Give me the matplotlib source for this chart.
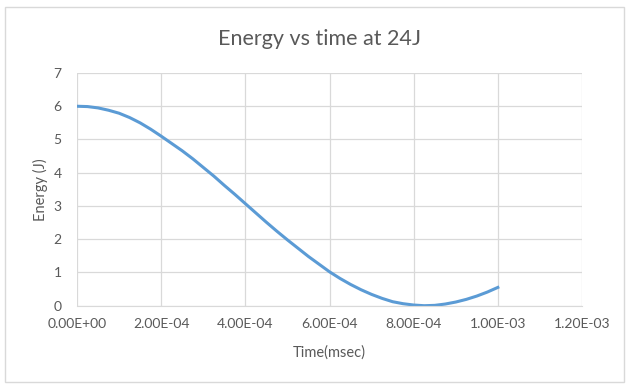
import matplotlib
matplotlib.use("Agg")
import matplotlib.pyplot as plt
from matplotlib.patches import Rectangle
from matplotlib.ticker import FuncFormatter

# time (s) and energy (J)
time_s = [0.0, 0.25e-4, 0.5e-4, 0.75e-4, 1.0e-4, 1.25e-4, 1.5e-4, 1.75e-4, 2.0e-4, 2.25e-4,
          2.5e-4, 2.75e-4, 3.0e-4, 3.25e-4, 3.5e-4, 3.75e-4, 4.0e-4, 4.25e-4, 4.5e-4, 4.75e-4,
          5.0e-4, 5.25e-4, 5.5e-4, 5.75e-4, 6.0e-4, 6.25e-4, 6.5e-4, 6.75e-4, 7.0e-4, 7.25e-4,
          7.5e-4, 7.75e-4, 8.0e-4, 8.25e-4, 8.5e-4, 8.75e-4, 9.0e-4, 9.25e-4, 9.5e-4, 9.75e-4,
          1.0e-3]
energy = [6.00, 5.99, 5.95, 5.88, 5.79, 5.66, 5.50, 5.31, 5.10, 4.88,
          4.66, 4.42, 4.16, 3.90, 3.62, 3.35, 3.07, 2.79, 2.51, 2.24,
          1.98, 1.73, 1.48, 1.25, 1.02, 0.82, 0.64, 0.48, 0.34, 0.22,
          0.12, 0.06, 0.02, 0.00, 0.01, 0.05, 0.11, 0.19, 0.29, 0.41,
          0.55]
xticks = [0.0, 2e-4, 4e-4, 6e-4, 8e-4, 1e-3, 1.2e-3]
yticks = [0, 1, 2, 3, 4, 5, 6, 7]

plt.rcParams['font.family'] = ['Lato', 'DejaVu Sans']
grey = "#595959"
W, H = 627, 385

fig = plt.figure(figsize=(W / 100, H / 100), dpi=100)
fig.patches.append(Rectangle((5 / W, 1 - 382 / H), 619 / W, 375 / H, transform=fig.transFigure,
                             fill=False, edgecolor="#d9d9d9", linewidth=1))
ax = fig.add_axes([77 / W, 1 - 305.7 / H, 505 / W, 232.7 / H])
ax.plot(time_s, energy, color="#5b9bd5", linewidth=2.2)

ax.set_xlim(0, 1.2e-3)
ax.set_ylim(0, 7)
ax.set_xticks(xticks)
ax.set_yticks(yticks)
ax.xaxis.set_major_formatter(FuncFormatter(lambda v, p: f"{v:.2E}"))
ax.grid(color="#d9d9d9", linewidth=0.9)
ax.set_axisbelow(True)
for s in ["top", "right", "left"]:
    ax.spines[s].set_visible(False)
ax.spines["bottom"].set_color("#d9d9d9")
ax.tick_params(length=0, colors=grey, labelsize=10)
ax.tick_params(axis="x", pad=9)
ax.tick_params(axis="y", pad=11)

fig.text(320 / W, 1 - 45 / H, "Energy vs time at 24J", color=grey, fontsize=15.5,
         ha="center", va="baseline")
fig.text(329.5 / W, 1 - 353 / H, "Time(msec)", color=grey, fontsize=10.5, ha="center", va="center")
fig.text(40 / W, 1 - 189.5 / H, "Energy (J)", color=grey, fontsize=10.5, rotation=90,
         ha="center", va="center")

fig.savefig("out.png", dpi=100)
